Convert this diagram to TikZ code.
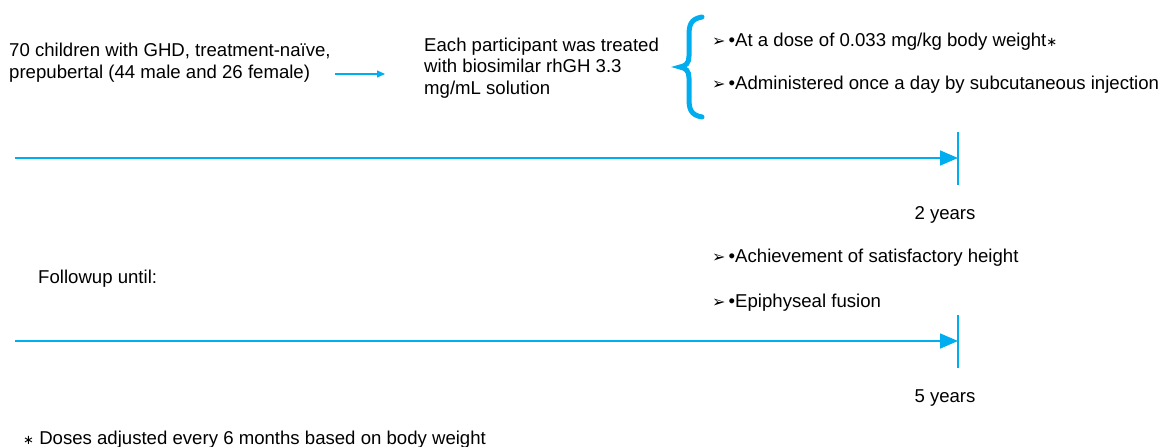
\documentclass[tikz,border=0pt]{standalone}
\usepackage{fontspec}
\setmainfont{Liberation Sans}
\newfontfamily\symfont{DejaVu Sans}
\usetikzlibrary{arrows.meta}
\definecolor{tlblue}{HTML}{00AEEF}
\newcommand{\itm}[1]{{\symfont\fontsize{16}{16}\selectfont ➢}\,•#1}
\newcommand{\astr}{{\symfont\fontsize{13}{13}\selectfont ∗}}

\begin{document}
\begin{tikzpicture}[x=1pt,y=-1pt,
    txt/.style={anchor=west,inner sep=0pt,align=left,font=\fontsize{18.6}{21.8}\selectfont},
    tl/.style={tlblue,line width=1.6pt}]
    \useasboundingbox (0,0) rectangle (1162,447);
    % who and what
    \node[txt] (pop) at (9,63) {70 children with GHD, treatment-naïve,\\prepubertal (44 male and 26 female)};
    \node[txt] (trt) at (424,68) {Each participant was treated\\with biosimilar rhGH 3.3\\mg/mL solution};
    \coordinate (a0) at (335,74);
    \coordinate (a1) at (385,74);
    \draw[tl,line width=1.2pt,-{Triangle[length=8pt,width=7pt]}] (a0) -- (a1);
    % brace
    \draw[tlblue,line width=5pt,line cap=round]
        (702,17) .. controls (690,19) and (689,26) .. (689,36) -- (689,56)
        .. controls (689,63) and (686,66) .. (680,67)
        .. controls (686,68) and (689,71) .. (689,78) -- (689,98)
        .. controls (689,108) and (690,115) .. (702,117);
    \node[txt] (d1) at (712,42) {\itm{At a dose of 0.033 mg/kg body weight}\astr};
    \node[txt] (d2) at (712,85) {\itm{Administered once a day by subcutaneous injection}};
    % timelines
    \foreach \y/\lbl [count=\k] in {158/2 years,341/5 years}
        {
        \coordinate (s\k) at (15,\y);
        \coordinate (e\k) at (958,\y);
        \draw[tl,-{Triangle[length=18pt,width=15pt]}] (s\k) -- (e\k);
        \draw[tl] (958,\y-26) -- (958,\y+27);
        \node[txt,anchor=center] (yr\k) at (945,\y+57) {\lbl};
        }
    \node[txt] (fu) at (38,279) {Followup until:};
    \node[txt] (h1) at (712,258) {\itm{Achievement of satisfactory height}};
    \node[txt] (h2) at (712,303) {\itm{Epiphyseal fusion}};
    \node[txt] (note) at (23,440) {\astr\ Doses adjusted every 6 months based on body weight};
\end{tikzpicture}
\end{document}
